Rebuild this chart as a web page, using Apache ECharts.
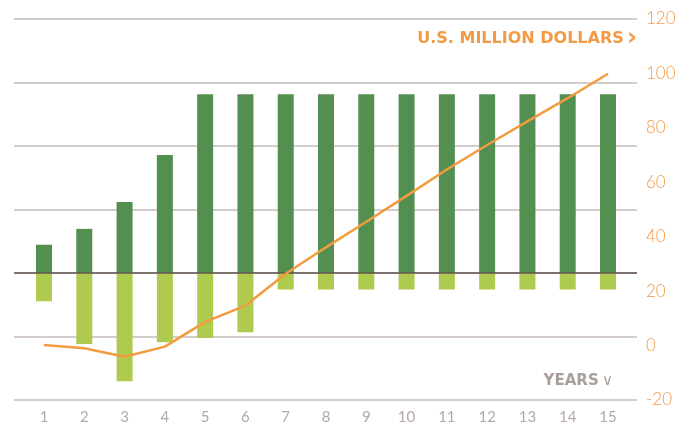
<!DOCTYPE html>
<html>
<head>
<meta charset="utf-8">
<script src="https://cdn.jsdelivr.net/npm/echarts@6/dist/echarts.min.js"></script>
<style>
html,body{margin:0;padding:0;background:#fff;}
#chart{width:692px;height:425px;}
</style>
</head>
<body>
<div id="chart"></div>
<script>
const years = [1,2,3,4,5,6,7,8,9,10,11,12,13,14,15];
const inflows = [8.9,13.9,22.4,37.2,56.3,56.3,56.3,56.3,56.3,56.3,56.3,56.3,56.3,56.3,56.3];
const outflows = [-8.9,-22.4,-34.1,-21.8,-20.5,-18.7,-5.2,-5.2,-5.2,-5.2,-5.2,-5.2,-5.2,-5.2,-5.2];
const cumulative = [0.2,-1.0,-4.1,-0.4,8.7,14.7,26.4,36.1,45.5,55.0,64.7,73.7,82.4,90.9,99.9];
const rightTicks = [-20,0,20,40,60,80,100,120];
const unitLabel = 'U.S. MILLION DOLLARS';
const xLabel = 'YEARS';

const chart = echarts.init(document.getElementById('chart'));
const pair = (arr) => years.map((y, i) => [y, arr[i]]);

chart.setOption({
  animation: false,
  backgroundColor: '#ffffff',
  grid: { left: 14, right: 55, top: 19, bottom: 25, containLabel: false },
  xAxis: {
    type: 'value',
    min: 0.255,
    max: 15.72,
    axisLine: { show: false },
    axisTick: { show: false },
    splitLine: { show: false },
    axisLabel: {
      customValues: years,
      color: '#b3a9a5',
      fontFamily: 'Lato',
      fontSize: 15,
      margin: 10
    }
  },
  yAxis: [
    {
      type: 'value',
      min: -40, max: 80, interval: 20,
      position: 'left',
      axisLine: { show: false },
      axisTick: { show: false },
      axisLabel: { show: false },
      splitLine: { show: true, lineStyle: { color: '#c6bdba', width: 1.5 } }
    },
    {
      type: 'value',
      min: rightTicks[0], max: rightTicks[rightTicks.length - 1], interval: 20,
      position: 'right',
      axisLine: { show: false },
      axisTick: { show: false },
      splitLine: { show: false },
      axisLabel: {
        color: '#f29a45',
        fontFamily: 'Lato',
        fontWeight: 300,
        fontSize: 17,
        margin: 9
      }
    }
  ],
  graphic: [
    {
      type: 'text',
      right: 55,
      top: 27,
      style: {
        text: '{a|' + unitLabel + '} {b|\u203A}',
        rich: {
          a: { fontFamily: 'DejaVu Sans', fontWeight: 'bold', fontSize: 16, fill: '#f29a45' },
          b: { fontFamily: 'DejaVu Sans', fontWeight: 'bold', fontSize: 24, fill: '#f29a45' }
        }
      }
    },
    {
      type: 'text',
      right: 79,
      top: 374,
      style: {
        text: '{a|' + xLabel + '} {b|\u2228}',
        rich: {
          a: { fontFamily: 'DejaVu Sans', fontWeight: 'bold', fontSize: 15, fill: '#a99f9b' },
          b: { fontFamily: 'DejaVu Sans', fontSize: 15, fill: '#a99f9b' }
        }
      }
    }
  ],
  series: [
    {
      name: 'inflow',
      type: 'bar',
      stack: 'flow',
      yAxisIndex: 0,
      barWidth: 16,
      itemStyle: { color: '#538f51' },
      data: pair(inflows)
    },
    {
      name: 'outflow',
      type: 'bar',
      stack: 'flow',
      yAxisIndex: 0,
      barWidth: 16,
      itemStyle: { color: '#aecb50' },
      data: pair(outflows),
      markLine: {
        silent: true,
        symbol: 'none',
        label: { show: false },
        lineStyle: { color: '#5f5451', width: 1.5, type: 'solid' },
        data: [{ yAxis: 0 }]
      }
    },
    {
      name: 'cumulative',
      type: 'line',
      yAxisIndex: 1,
      symbol: 'none',
      lineStyle: { color: '#f39b3f', width: 2.5 },
      data: pair(cumulative),
      z: 5
    }
  ]
});
</script>
</body>
</html>
